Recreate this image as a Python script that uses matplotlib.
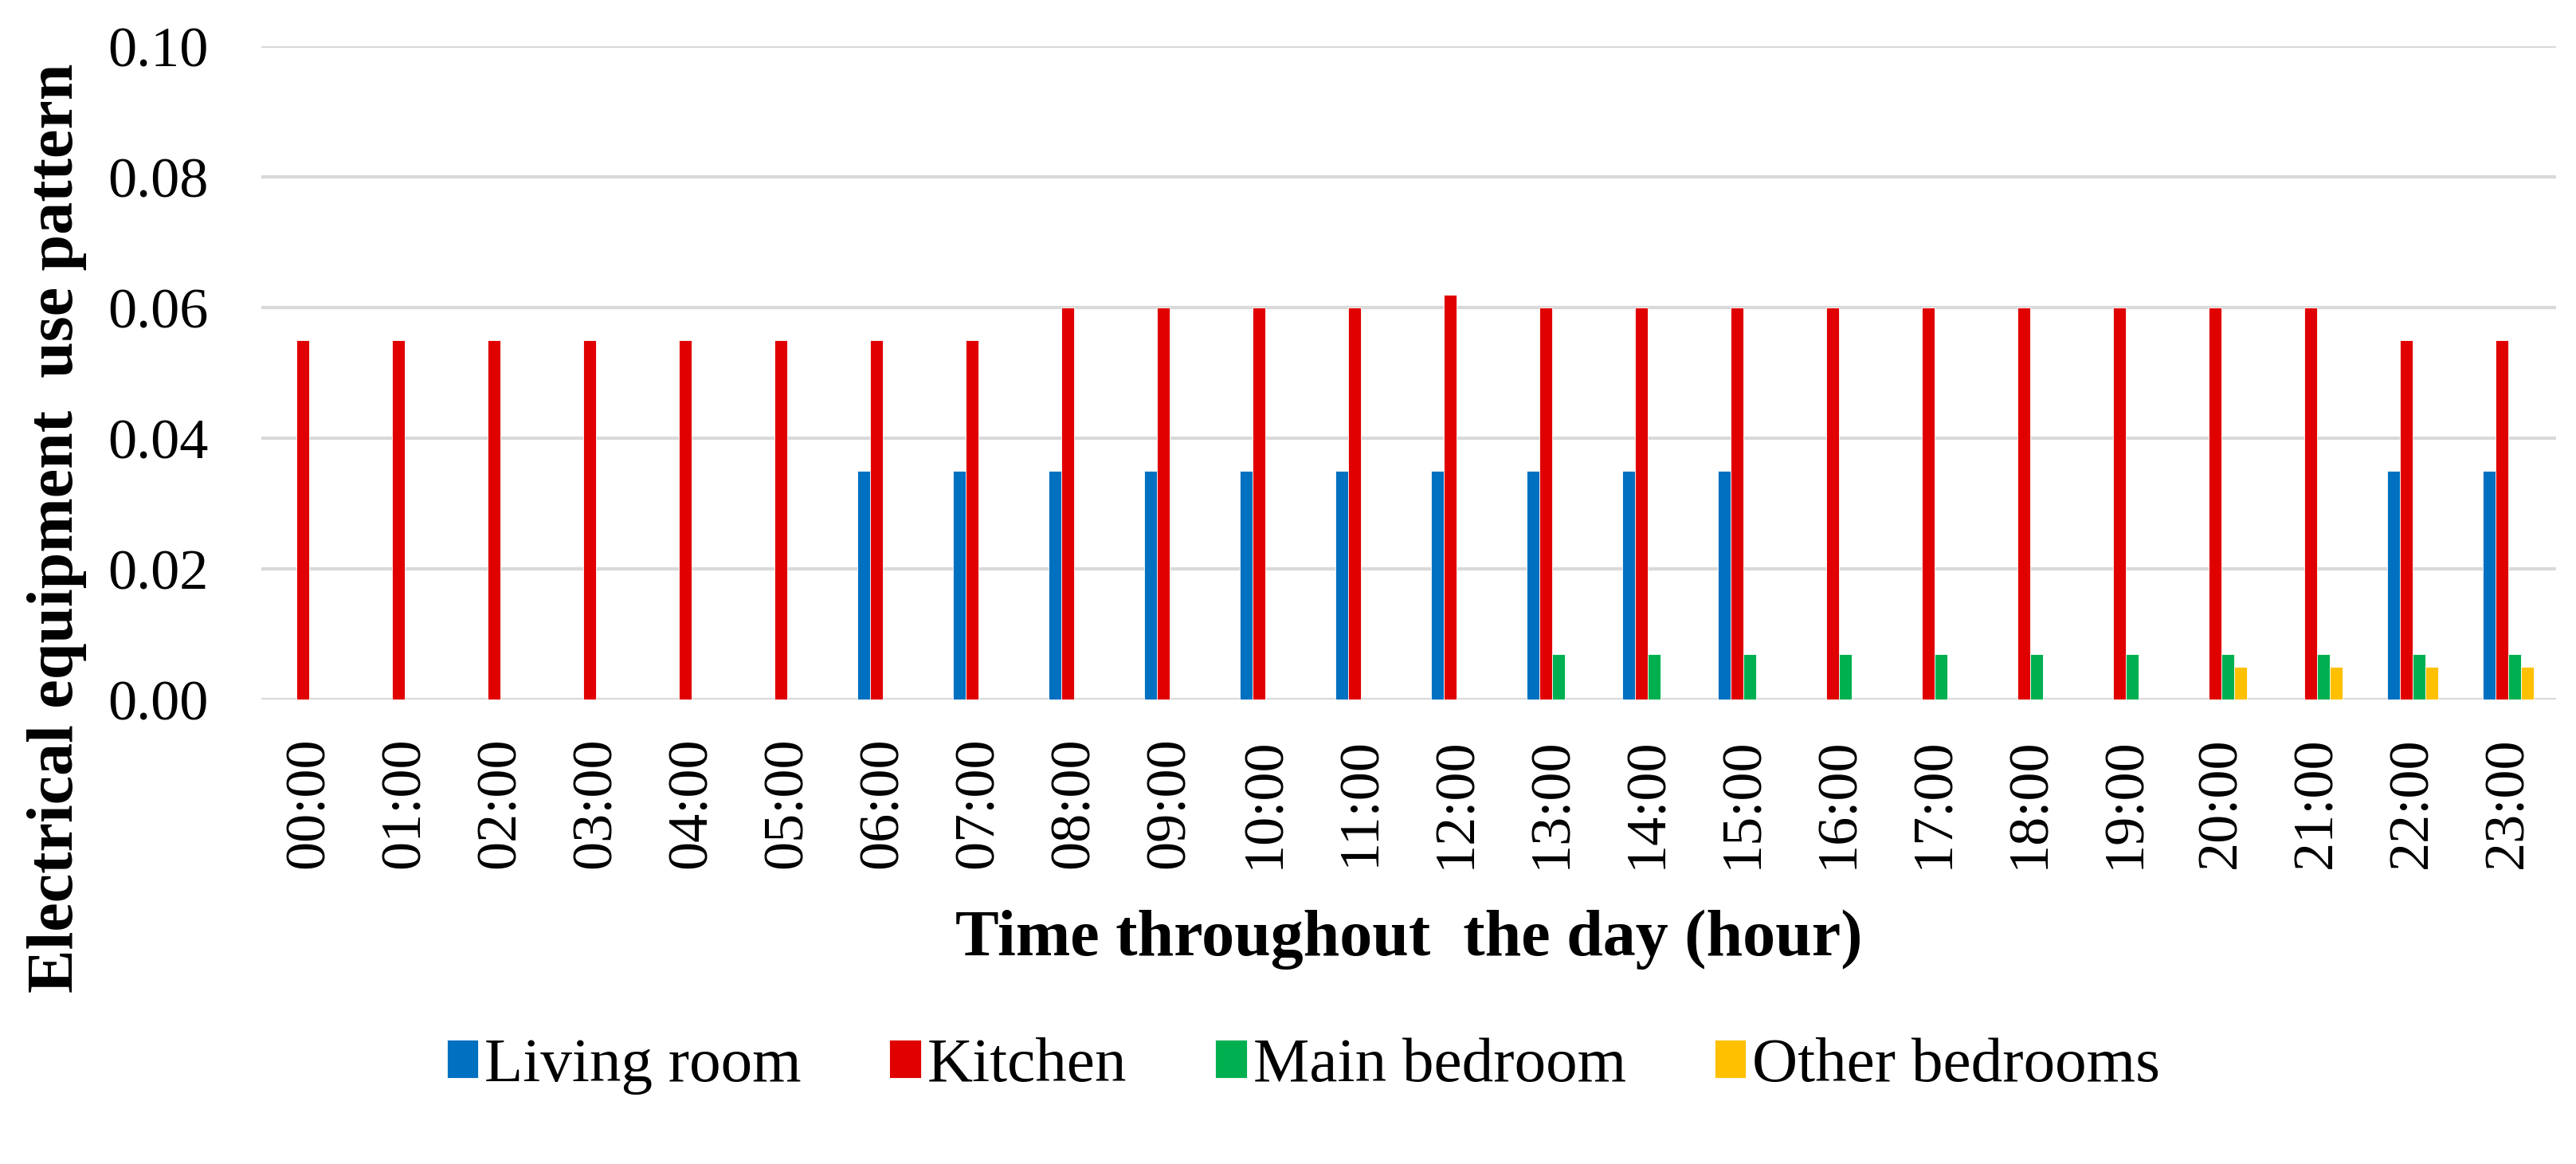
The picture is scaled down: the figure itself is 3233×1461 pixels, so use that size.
import matplotlib
matplotlib.use("Agg")
import matplotlib.pyplot as plt
import numpy as np

hours = [f"{h:02d}:00" for h in range(24)]
living_room = [0, 0, 0, 0, 0, 0, 0.035, 0.035, 0.035, 0.035, 0.035, 0.035,
               0.035, 0.035, 0.035, 0.035, 0, 0, 0, 0, 0, 0, 0.035, 0.035]
kitchen = [0.055, 0.055, 0.055, 0.055, 0.055, 0.055, 0.055, 0.055, 0.06, 0.06, 0.06, 0.06,
           0.062, 0.06, 0.06, 0.06, 0.06, 0.06, 0.06, 0.06, 0.06, 0.06, 0.055, 0.055]
main_bedroom = [0, 0, 0, 0, 0, 0, 0, 0, 0, 0, 0, 0,
                0, 0.007, 0.007, 0.007, 0.007, 0.007, 0.007, 0.007, 0.007, 0.007, 0.007, 0.007]
other_bedrooms = [0, 0, 0, 0, 0, 0, 0, 0, 0, 0, 0, 0,
                  0, 0, 0, 0, 0, 0, 0, 0, 0.005, 0.005, 0.005, 0.005]
series_names = ["Living room", "Kitchen", "Main bedroom", "Other bedrooms"]
yticks = [0.00, 0.02, 0.04, 0.06, 0.08, 0.10]

colors = ["#0070C0", "#E00000", "#00B050", "#FFC000"]

plt.rcParams['font.family'] = ['Liberation Serif', 'DejaVu Serif']

fig = plt.figure(figsize=(32.33, 14.61), dpi=100)
ax = fig.add_axes([328/3233, 1 - 878/1461, (3208-328)/3233, (878-58)/1461])

x = np.arange(len(hours))
w = 0.135
data = [living_room, kitchen, main_bedroom, other_bedrooms]
for i, (vals, name, c) in enumerate(zip(data, series_names, colors)):
    ax.bar(x + (i - 1.5) * w, vals, width=w, color=c, label=name, zorder=3,
           edgecolor='white', linewidth=0.6)

ax.set_xlim(-0.5, len(hours) - 0.5)
ax.set_ylim(0, 0.10)
ax.set_yticks(yticks)
ax.set_yticklabels([f"{v:.2f}" for v in yticks])
ax.set_xticks(x)
ax.set_xticklabels(hours, rotation=90)
ax.tick_params(axis='y', length=0, labelsize=52, pad=48)
ax.tick_params(axis='x', length=0, labelsize=52, pad=34)
ax.grid(axis='y', color='#D9D9D9', linewidth=3, zorder=0)
for s in ax.spines.values():
    s.set_visible(False)

ax.set_xlabel("Time throughout  the day (hour)", fontsize=59, fontweight='bold', labelpad=37)
ax.set_ylabel("Electrical equipment  use pattern", fontsize=59, fontweight='bold', labelpad=30)
ax.yaxis.set_label_coords(-0.076, 0.262)

leg = fig.legend(loc='center', bbox_to_anchor=(0.506, 1 - 1338/1461), ncol=4, frameon=False,
                 fontsize=57, handlelength=0.5, handleheight=0.55, handletextpad=0.1,
                 columnspacing=1.4)

fig.savefig("out.png", dpi=100)
